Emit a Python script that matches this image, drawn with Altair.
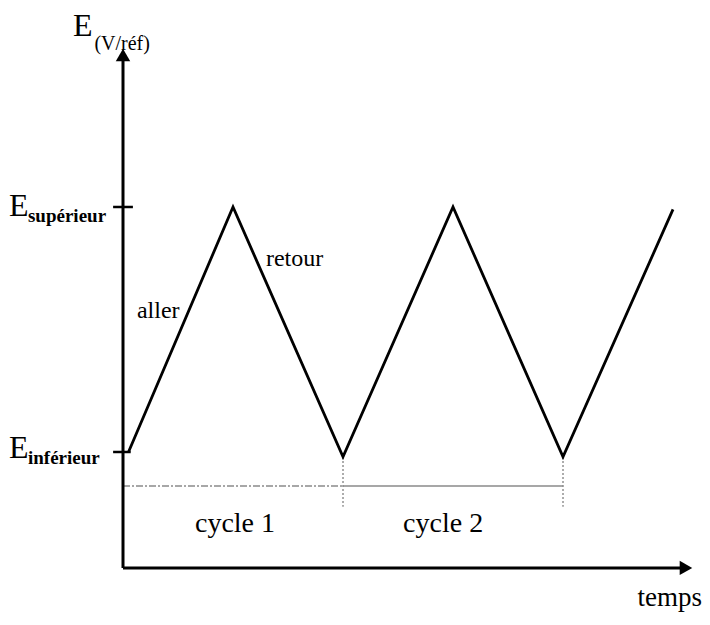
import altair as alt
import pandas as pd

# Potential sweep: time in half-cycle units, E normalised (0 = E_inférieur, 1 = E_supérieur)
wave_t = [0.05, 1.0, 2.0, 3.0, 4.0, 5.0]
wave_E = [0.0, 1.0, -0.02, 1.0, -0.02, 0.99]
level_names = ["supérieur", "inférieur"]
level_E = [1.0, 0.0]
cycle_names = ["cycle 1", "cycle 2"]
cycle_bounds = [0.0, 2.0, 4.0]
sweep_names = ["aller", "retour"]

# coordinate frame (data units)
T_MIN, T_MAX = -1.0455, 5.2636
E_MIN, E_MAX = -0.6735, 1.8122
E_AXIS = -0.473      # where the time axis sits
E_CYC = -0.139       # cycle baseline
FONT = "Liberation Serif"

xs = alt.Scale(domain=[T_MIN, T_MAX], nice=False, zero=False)
ys = alt.Scale(domain=[E_MIN, E_MAX], nice=False, zero=False)


def X(f="t"):
    return alt.X(f"{f}:Q", scale=xs, axis=None)


def Y(f="E"):
    return alt.Y(f"{f}:Q", scale=ys, axis=None)


wave = pd.DataFrame({"t": wave_t, "E": wave_E})
line = alt.Chart(wave).mark_line(color="black", strokeWidth=2.8).encode(x=X(), y=Y(), order="t:Q")

# axes
yaxis = alt.Chart(pd.DataFrame({"t": [0.0], "E": [E_AXIS], "E2": [1.60]})).mark_rule(
    color="black", strokeWidth=3).encode(x=X(), y=Y(), y2="E2:Q")
xaxis = alt.Chart(pd.DataFrame({"t": [0.0], "t2": [5.10], "E": [E_AXIS]})).mark_rule(
    color="black", strokeWidth=3).encode(x=X(), x2="t2:Q", y=Y())
arrows = alt.Chart(pd.DataFrame({"t": [0.0, 5.118], "E": [1.62, E_AXIS],
                                 "shape": ["triangle-up", "triangle-right"]})).mark_point(
    filled=True, color="black", opacity=1, size=210).encode(
    x=X(), y=Y(), shape=alt.Shape("shape:N", scale=None))

ticks = alt.Chart(pd.DataFrame({"E": level_E, "t": [-0.09, -0.09], "t2": [0.09, 0.07]})).mark_rule(
    color="black", strokeWidth=2.5).encode(x=X(), x2="t2:Q", y=Y())

# cycle markers
cyc1 = alt.Chart(pd.DataFrame({"t": [cycle_bounds[0]], "t2": [cycle_bounds[1]], "E": [E_CYC]})).mark_rule(
    color="#8a8a8a", strokeWidth=1.6, strokeDash=[7, 2, 2, 2]).encode(x=X(), x2="t2:Q", y=Y())
cyc2 = alt.Chart(pd.DataFrame({"t": [cycle_bounds[1]], "t2": [cycle_bounds[2]], "E": [E_CYC]})).mark_rule(
    color="#8a8a8a", strokeWidth=1.4).encode(x=X(), x2="t2:Q", y=Y())
bounds = alt.Chart(pd.DataFrame({"t": cycle_bounds[1:], "E": [-0.02, -0.02], "E2": [-0.224, -0.224]})).mark_rule(
    color="#8a8a8a", strokeWidth=1.4, strokeDash=[2, 2]).encode(x=X(), y=Y(), y2="E2:Q")

# text
big_E = alt.Chart(pd.DataFrame({"t": [-0.455, -1.036, -1.036], "E": [1.696, 0.963, -0.0245],
                                "txt": ["E", "E", "E"]})).mark_text(
    font=FONT, fontSize=32, align="left", baseline="alphabetic", color="black").encode(
    x=X(), y=Y(), text="txt:N")
sub_ref = alt.Chart(pd.DataFrame({"t": [-0.26], "E": [1.641], "txt": ["(V/réf)"]})).mark_text(
    font=FONT, fontSize=20, align="left", baseline="alphabetic", color="black").encode(
    x=X(), y=Y(), text="txt:N")
sub_lvl = alt.Chart(pd.DataFrame({"t": [-0.864, -0.864], "E": [0.939, -0.049],
                                  "txt": level_names})).mark_text(
    font=FONT, fontSize=19, fontWeight="bold", align="left", baseline="alphabetic", color="black").encode(
    x=X(), y=Y(), text="txt:N")
sweeps = alt.Chart(pd.DataFrame({"t": [0.32, 1.56], "E": [0.576, 0.788],
                                 "txt": sweep_names})).mark_text(
    font=FONT, fontSize=24, align="center", baseline="middle", color="black").encode(
    x=X(), y=Y(), text="txt:N")
cycles = alt.Chart(pd.DataFrame({"t": [1.018, 2.91], "E": [-0.294, -0.294],
                                 "txt": cycle_names})).mark_text(
    font=FONT, fontSize=28, align="center", baseline="middle", color="black").encode(
    x=X(), y=Y(), text="txt:N")
temps = alt.Chart(pd.DataFrame({"t": [4.97], "E": [-0.595], "txt": ["temps"]})).mark_text(
    font=FONT, fontSize=27, align="center", baseline="middle", color="black").encode(
    x=X(), y=Y(), text="txt:N")

chart = alt.layer(
    cyc1, cyc2, bounds, line, yaxis, xaxis, arrows, ticks,
    big_E, sub_ref, sub_lvl, sweeps, cycles, temps
).properties(
    width=694, height=609, padding=0,
    autosize=alt.AutoSizeParams(type="none"),
).configure_view(stroke=None)

chart.save("out.html", embed_options={"renderer": "svg", "actions": False})
